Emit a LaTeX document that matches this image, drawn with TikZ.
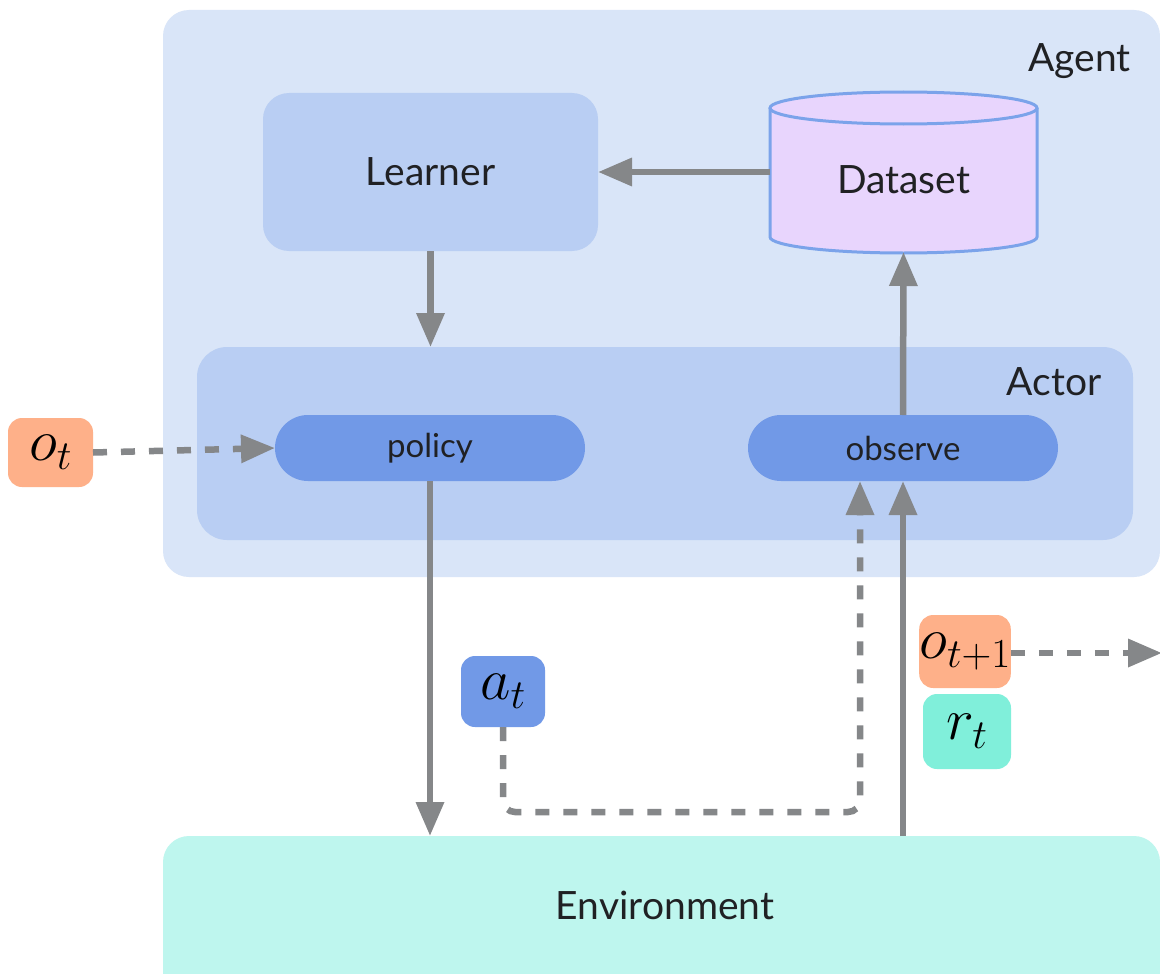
\RequirePackage{fix-cm}
\documentclass[tikz,border=0pt]{standalone}
\usepackage[no-math]{fontspec}
\setmainfont{Lato}
\usetikzlibrary{arrows.meta,calc}
\definecolor{agentbg}{HTML}{D9E5F8}
\definecolor{actorbg}{HTML}{B9CEF3}
\definecolor{pill}{HTML}{7199E7}
\definecolor{dsfill}{HTML}{E8D5FD}
\definecolor{dsline}{HTML}{7BA3EA}
\definecolor{salmon}{HTML}{FEB089}
\definecolor{aqua}{HTML}{80EFDA}
\definecolor{envbg}{HTML}{BEF6EE}
\definecolor{linegray}{HTML}{858789}
\definecolor{ink}{HTML}{202124}
\begin{document}
\begin{tikzpicture}[x=1pt,y=-1pt,
  bigtext/.style={font=\fontsize{39}{44}\selectfont, text=ink},
  pilltext/.style={font=\fontsize{33}{38}\selectfont, text=ink},
  mathtext/.style={font=\fontsize{59}{62}\selectfont, text=black},
  panel/.style={inner sep=0pt, outer sep=0pt},
  pillbox/.style={panel, fill=pill, rounded corners=33pt, minimum width=310pt, minimum height=66pt, pilltext},
  varbox/.style={panel, rounded corners=14pt, mathtext},
  arr/.style={draw=linegray, line width=6.5pt, -{Triangle[length=34pt,width=27pt]}},
  darr/.style={arr, dash pattern=on 14pt off 14pt}
]
\useasboundingbox (0,0) rectangle (1160,974);
\clip (0,0) rectangle (1160,974);
\fill[white] (0,0) rectangle (1160,974);

% Agent
\node[panel, fill=agentbg, rounded corners=26pt, minimum width=997pt, minimum height=567pt] (agent) at (661.5,293.5) {};
\node[bigtext, anchor=base east] (agentlbl) at (1134,72) {Agent};

% Learner
\node[panel, fill=actorbg, rounded corners=26pt, minimum width=335pt, minimum height=158pt, bigtext] (learner) at (430.5,172) {Learner};

% Dataset cylinder
\fill[dsfill] (770,108) -- (770,237) arc[start angle=180, end angle=360, x radius=133.5pt, y radius=16pt] -- (1037,108) arc[start angle=0, end angle=180, x radius=133.5pt, y radius=16pt] -- cycle;
\draw[dsline, line width=3pt] (770,108) -- (770,237) arc[start angle=180, end angle=360, x radius=133.5pt, y radius=16pt] -- (1037,108);
\draw[dsline, line width=3pt] (903.5,108) ellipse[x radius=133.5pt, y radius=16pt];
\node[panel, minimum width=267pt, minimum height=160pt] (dataset) at (903.5,172) {};
\node[bigtext] (dstext) at (903.5,180) {Dataset};

% Actor
\node[panel, fill=actorbg, rounded corners=30pt, minimum width=936pt, minimum height=193pt] (actor) at (665,443.5) {};
\node[bigtext, anchor=base east] (actorlbl) at (1105,395) {Actor};
\node[pillbox] (policy) at (430,448) {policy};
\node[pillbox] (observe) at (903,448) {observe};

% Environment
\node[panel, fill=envbg, rounded corners=26pt, minimum width=997pt, minimum height=180pt] (env) at (661.5,926) {};
\node[bigtext] (envtext) at (665,905) {Environment};

% variable boxes
\node[varbox, fill=salmon, minimum width=85pt, minimum height=69pt] (ot) at (50.5,452.5) {$o_t$};
\node[varbox, fill=pill, minimum width=84pt, minimum height=71pt] (at) at (503,691.5) {$a_t$};
\node[varbox, fill=salmon, minimum width=84pt, minimum height=73pt] (otn) at (965,651.5) {$o_{t+1}$};
\node[varbox, fill=aqua, minimum width=88pt, minimum height=75pt] (rt) at (967,731.5) {$r_t$};

% connectors
\draw[arr] (dataset.west) -- (learner.east);
\draw[arr] (learner.south) -- (learner.south |- actor.north);
\draw[darr] (ot.east) -- (policy.west);
\draw[arr] (policy.south) -- (policy.south |- env.north);
\draw[arr] (observe.north) -- (dataset.south);
\draw[arr] (observe.south |- env.north) -- (observe.south);
\coordinate (obsdash) at ($(observe.south)+(-43,0)$);
\coordinate (bend) at (860,812);
\draw[darr, rounded corners=12pt] (at.south) |- (bend) -- (obsdash);
\coordinate (outend) at (1162,653);
\draw[darr] (otn.east |- outend) -- (outend);
\end{tikzpicture}
\end{document}
